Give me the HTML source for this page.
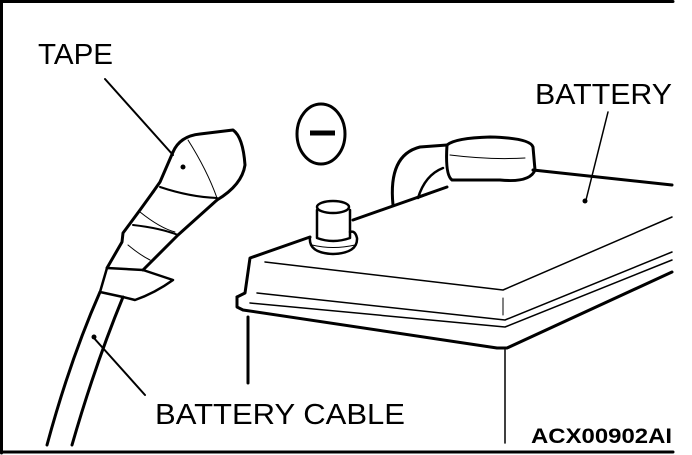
<!DOCTYPE html>
<html><head><style>
html,body{margin:0;padding:0;background:#fff;}
svg{display:block;}
text{font-family:"Liberation Sans",sans-serif;fill:#000;}
</style></head><body>
<svg width="692" height="455" viewBox="0 0 692 455" xmlns="http://www.w3.org/2000/svg">
<g fill="none" stroke="#000" stroke-linecap="round" stroke-linejoin="round">
<!-- frame -->
<line x1="0" y1="1.5" x2="673" y2="1.5" stroke-width="3"/>
<line x1="1.5" y1="0" x2="1.5" y2="453" stroke-width="3"/>
<line x1="0" y1="452" x2="673" y2="452" stroke-width="3"/>

<!-- TAPE leader -->
<line x1="105" y1="79" x2="173" y2="155" stroke-width="2"/>
<!-- cable cap -->
<path d="M173,152 Q180,136 200,134 L233,130 Q243,137 245,165 Q242,185 217,200" stroke-width="3"/>
<path d="M173,152 L160,182 L153,192" stroke-width="3"/>
<path d="M188,140 Q207,170 217,198" stroke-width="1"/>
<path d="M160,187 Q190,197 217,198" stroke-width="2"/>
<path d="M153,192 L140,210 L123,233 L122,242 L107,268" stroke-width="3"/>
<path d="M217,200 L178,235 L143,270" stroke-width="3"/>
<path d="M133,225 Q160,228 178,235" stroke-width="2"/>
<path d="M140,212 Q160,228 175,232" stroke-width="1"/>
<path d="M128,245 Q140,255 150,260" stroke-width="1"/>
<!-- tape flap -->
<path d="M107,268 L143,270 L173,280 Q155,293 135,300 L123,297 L100,292 Z" stroke-width="2.5"/>
<!-- cable below -->
<path d="M100,292 Q70,360 47,445" stroke-width="3"/>
<path d="M123,297 Q95,365 72,445" stroke-width="3"/>
<line x1="93" y1="337" x2="145" y2="395" stroke-width="2"/>
<!-- minus circle -->
<ellipse cx="321" cy="134" rx="24" ry="30" stroke-width="3"/>
<line x1="310" y1="133" x2="335" y2="133" stroke-width="5" stroke-linecap="butt"/>
<!-- BATTERY leader -->
<line x1="608" y1="112" x2="586" y2="200" stroke-width="1.5"/>
<!-- battery lid -->
<path d="M237,297 L245,293 L250,258 L310,237" stroke-width="3"/>
<path d="M353,220 L447,187" stroke-width="3"/>
<path d="M533,170 L672,185" stroke-width="3"/>
<path d="M237,297 L237,307 L243,310 L497,348 L507,348 L672,272" stroke-width="3"/>
<path d="M265,262 L503,290 L672,217" stroke-width="1.5"/>
<path d="M257,293 L505,320 L672,252" stroke-width="1.5"/>
<path d="M250,303 L505,327 L672,260" stroke-width="1.5"/>
<line x1="503" y1="298" x2="503" y2="315" stroke-width="1"/>
<line x1="505" y1="350" x2="505" y2="443" stroke-width="1.5"/>
<line x1="248" y1="317" x2="248" y2="383" stroke-width="3"/>
<!-- post -->
<path d="M310,237 Q308,253 333,254 Q358,253 357,238 Q355,230 350,232" stroke-width="2.5"/>
<path d="M312,245 Q333,250 355,245" stroke-width="1"/>
<path d="M317,210 L317,238 Q333,244 350,238 L350,210" stroke-width="2.5"/>
<ellipse cx="333" cy="207" rx="16" ry="6" stroke-width="2.5"/>
<!-- cable cover + hose -->
<path d="M393,205 Q388,155 420,147 L447,145" stroke-width="3"/>
<path d="M418,198 Q425,175 443,168" stroke-width="2.5"/>
<path d="M447,145 Q455,138 490,137 Q530,138 533,147 L535,170 Q530,183 500,180 L452,180 Q445,175 447,145 Z" stroke-width="3"/>
<path d="M450,155 Q490,160 525,158" stroke-width="1"/>
<path d="M418,198 L447,187" stroke-width="2"/>
</g>
<circle cx="585" cy="201" r="2.5" fill="#000"/>
<circle cx="183" cy="167" r="2.5" fill="#000"/>
<circle cx="94" cy="337" r="2.5" fill="#000"/>
<text x="38" y="64" font-size="29" textLength="75" lengthAdjust="spacingAndGlyphs">TAPE</text>
<text x="535" y="104" font-size="29" textLength="137" lengthAdjust="spacingAndGlyphs">BATTERY</text>
<text x="155" y="424" font-size="29" textLength="250" lengthAdjust="spacingAndGlyphs">BATTERY CABLE</text>
<text x="531" y="443" font-size="21" font-weight="bold" textLength="141" lengthAdjust="spacingAndGlyphs">ACX00902AI</text>
</svg>
</body></html>
